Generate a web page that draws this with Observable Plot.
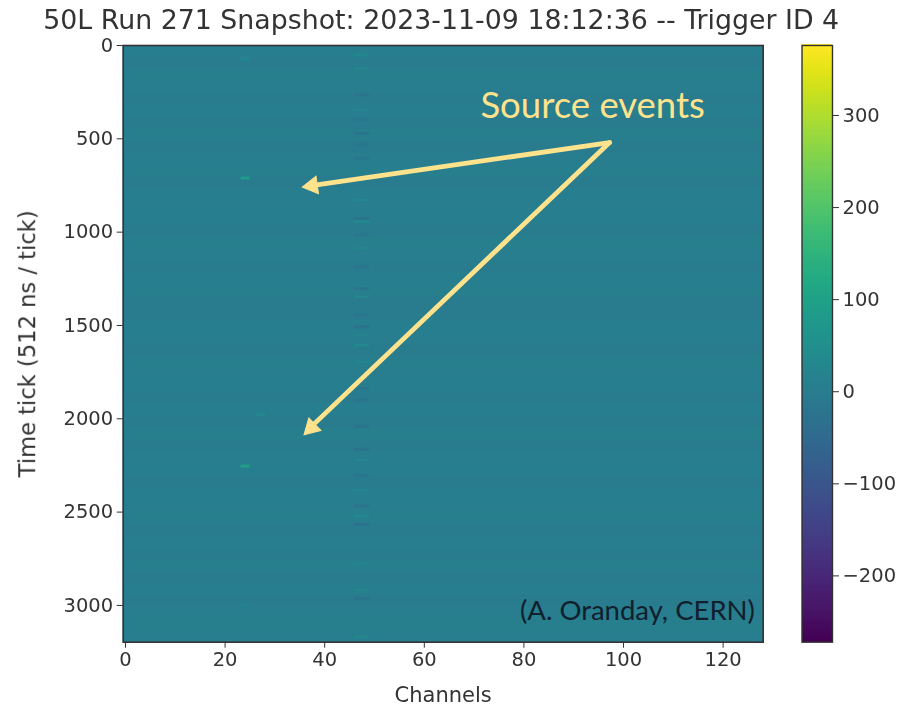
<!DOCTYPE html>
<html><head><meta charset="utf-8">
<script src="https://cdn.jsdelivr.net/npm/d3@7"></script>
<script src="https://cdn.jsdelivr.net/npm/@observablehq/plot@0.6"></script>
<style>
html,body{margin:0;background:#fff}
#c{position:relative;width:921px;height:707px;overflow:hidden}
#c svg{position:absolute;left:0;top:0;filter:blur(0.55px);background:transparent}
</style></head><body><div id="c"></div>
<script>
const titleText = "50L Run 271 Snapshot: 2023-11-09 18:12:36 -- Trigger ID 4";
const xLabel = "Channels";
const yLabel = "Time tick (512 ns / tick)";
const xTicks = [0,20,40,60,80,100,120];
const yTicks = [0,500,1000,1500,2000,2500,3000];
const barTicks = [-200,-100,0,100,200,300];
const valueDomain = [-272,376];
const bandHeight = 64;
const bandValues = [2,-3,4,1,-4,3,-2,5,-3,1,4,-5,2,-1,3,-4,5,0,-3,2,4,-2,-4,3,1,-3,5,-1,2,-4,3,-2,4,-3,1,2,-5,3,-1,4,-2,1,-3,5,-2,3,-4,1,4,-1];
const noisePosTicks = [54,125,348,830,947,1090,1349,1554,1608,1697,2224,2385,2523,2778,2921,3171];
const noisePosValues = [30,26,20,26,26,22,30,22,32,24,26,22,32,20,28,30];
const noiseNegTicks = [268,402,473,532,607,929,1018,1188,1304,1447,1510,1840,1902,2045,2165,2305,2469,2569,2966];
const noiseNegValues = [-26,-18,-30,-18,-18,-24,-18,-26,-24,-18,-30,-18,-22,-24,-28,-18,-26,-30,-26];
const hitChannels = [24.1,24.1,27.2,24.1,24.1];
const hitTicks = [75,713,1980,2256,3000];
const hitValues = [30,85,30,90,18];
const arrowStart = {channel:97.2, tick:520};
const arrowTipChannels = [37,37];
const arrowTipTicks = [752,2050];
const arrowHeadChannels = [37.5,37.3];
const arrowHeadTicks = [751,2048];
const arrowHeadAngles = [-98,-134];
const sourceLabel = {text:"Source events", channel:93.8, tick:327};
const creditLabel = {text:"(A. Oranday, CERN)", channel:102.8, tick:3031};
const barLevels = d3.range(valueDomain[0], valueDomain[1], 2);

const ink = "#333";
const cream = "#ffe28c";
const color = {type:"linear", scheme:"viridis", domain:valueDomain};
const bands = bandValues.map((v,i)=>({y1:i*bandHeight, y2:Math.min((i+1)*bandHeight,3197), v}));
const noise = [...noisePosTicks.map((t,i)=>({t,v:noisePosValues[i]})),
               ...noiseNegTicks.map((t,i)=>({t,v:noiseNegValues[i]}))];
const hits = hitTicks.map((t,i)=>({c:hitChannels[i],t,v:hitValues[i]}));
const tips = arrowTipTicks.map((t,i)=>({c:arrowTipChannels[i],t}));
const heads = arrowHeadTicks.map((t,i)=>({c:arrowHeadChannels[i],t,a:arrowHeadAngles[i]}));

const main = Plot.plot({
  width:921, height:707, marginLeft:122.7, marginRight:158.3, marginTop:45, marginBottom:65.3,
  style:{fontFamily:"DejaVu Sans", fontSize:"19.5px", color:ink, background:"transparent"},
  x:{domain:[-0.46,128.05]},
  y:{domain:[0,3197],reverse:true},
  color,
  marks:[
    Plot.rect([0],{x1:-0.46,x2:128.05,y1:0,y2:3197,fill:()=>0}),
    Plot.rect(bands,{x1:-0.46,x2:128.05,y1:"y1",y2:"y2",fill:"v",shapeRendering:"crispEdges"}),
    Plot.rect(noise,{x1:46,x2:49,y1:d=>d.t-7,y2:d=>d.t+7,fill:"v"}),
    Plot.rect(hits,{x1:d=>d.c-0.9,x2:d=>d.c+0.9,y1:d=>d.t-8,y2:d=>d.t+8,fill:"v"}),
    Plot.link(tips,{x1:()=>arrowStart.channel,y1:()=>arrowStart.tick,x2:"c",y2:"t",stroke:cream,strokeWidth:4.8,strokeLinecap:"round"}),
    Plot.dot(heads,{x:"c",y:"t",symbol:"triangle",r:6.5,fill:cream,stroke:cream,strokeWidth:1,rotate:"a"}),
    Plot.text([sourceLabel],{x:"channel",y:"tick",text:"text",fill:cream,fontSize:36.5,fontFamily:"Lato"}),
    Plot.text([creditLabel],{x:"channel",y:"tick",text:"text",fill:"#10202c",fontSize:27.5,fontFamily:"Lato"}),
    Plot.frame({stroke:ink,strokeWidth:1.6}),
    Plot.axisX({ticks:xTicks,anchor:"bottom",tickSize:6,tickPadding:4,stroke:ink,label:null,tickFormat:"d"}),
    Plot.axisY({ticks:yTicks,anchor:"left",tickSize:6,tickPadding:4,stroke:ink,label:null,tickFormat:"d"}),
    Plot.text([xLabel],{frameAnchor:"bottom",dy:53.5,lineAnchor:"middle",fontSize:21,fill:ink}),
    Plot.text([yLabel],{frameAnchor:"left",dx:-95,rotate:-90,textAnchor:"middle",fontSize:22.6,fill:ink}),
    Plot.text([titleText],{frameAnchor:"top",dy:-25,lineAnchor:"middle",dx:-2,fontSize:26.8,fill:ink})
  ]
});

const bar = Plot.plot({
  width:921, height:707, marginLeft:801.5, marginRight:89, marginTop:45, marginBottom:65.3,
  style:{fontFamily:"DejaVu Sans", fontSize:"19.5px", color:ink, background:"transparent"},
  x:{domain:[0,1],axis:null},
  y:{domain:valueDomain},
  color,
  marks:[
    Plot.rect(barLevels,{x1:0,x2:1,y1:d=>d,y2:d=>d+3,fill:d=>d,shapeRendering:"crispEdges"}),
    Plot.frame({stroke:ink,strokeWidth:1.4}),
    Plot.axisY({ticks:barTicks,anchor:"right",tickSize:6,tickPadding:4,stroke:ink,label:null})
  ]
});
const c = document.getElementById("c");
c.append(main, bar);
</script></body></html>
